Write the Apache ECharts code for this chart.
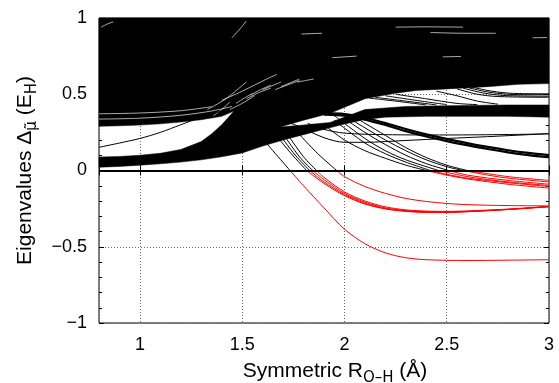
<!DOCTYPE html>
<html><head><meta charset="utf-8">
<script src="https://cdn.jsdelivr.net/npm/echarts@6/dist/echarts.min.js"></script>
<style>html,body{margin:0;padding:0;background:#fff}#c{width:559px;height:383px}</style>
</head><body><div id="c"></div>
<script>
// ---------- data ----------
// dense black region (many overlapping eigenvalue curves), outline [x, y]
const massOutline = [
  [0.8,1.0],[3.0,1.0],
  [3.0,0.57],[2.85,0.565],[2.7,0.55],[2.5,0.535],[2.35,0.525],[2.24,0.505],
  [2.1,0.47],[1.93,0.375],[1.8,0.33],[1.685,0.285],
  [1.8,0.298],[1.93,0.315],[2.1,0.40],[2.3,0.42],[2.5,0.425],[2.8,0.43],[3.0,0.43],
  [3.0,0.35],[2.8,0.355],[2.6,0.355],[2.4,0.355],[2.2,0.35],[2.1,0.335],[2.0,0.305],
  [1.9,0.27],[1.8,0.235],[1.7,0.20],[1.6,0.16],[1.5,0.115],[1.4,0.09],[1.3,0.07],
  [1.2,0.055],[1.1,0.044],[1.0,0.035],[0.9,0.027],[0.8,0.021],
  [0.8,0.088],[0.9,0.092],[1.0,0.10],[1.1,0.113],[1.2,0.138],[1.3,0.19],[1.35,0.24],
  [1.4,0.30],[1.46,0.39],
  [1.4,0.355],[1.3,0.333],[1.2,0.318],[1.1,0.306],[1.0,0.298],[0.9,0.293],[0.8,0.29]
];
const polygons = [massOutline];

// white gaps inside the dense region
const streak1 = [[0.8,0.337],[1.0,0.343],[1.2,0.362],[1.35,0.39],[1.45,0.42]];
const streak2 = [[0.8,0.372],[1.0,0.377],[1.2,0.392],[1.35,0.418]];
const streak3 = [[1.33,0.40],[1.42,0.47],[1.52,0.58]];
const streak4 = [[1.40,0.46],[1.5,0.52],[1.62,0.60],[1.67,0.63]];
const streak5 = [[1.44,0.40],[1.5,0.44],[1.56,0.49]];
const streak6 = [[1.52,0.47],[1.58,0.51],[1.64,0.54]];
const streak7 = [[1.66,0.53],[1.72,0.56],[1.78,0.59]];
const streak8 = [[1.45,0.87],[1.49,0.93],[1.52,0.98]];
const streak9 = [[2.25,0.94],[2.4,0.942],[2.58,0.94]];
const streak10 = [[2.42,0.905],[2.58,0.90],[2.74,0.90]];
const streak11 = [[1.94,0.74],[2.0,0.745],[2.06,0.75]];
const streak12 = [[2.48,0.745],[2.57,0.748]];
const streak13 = [[2.92,0.87],[2.99,0.872]];
const streak14 = [[1.79,0.895],[1.89,0.90]];
const streak15 = [[1.47,0.44],[1.51,0.475],[1.55,0.505]];
const streak16 = [[1.54,0.495],[1.59,0.53],[1.64,0.56]];
const streak17 = [[1.60,0.53],[1.645,0.555],[1.69,0.58]];
const streak18 = [[1.69,0.55],[1.735,0.575],[1.78,0.60]];
const streak19 = [[1.77,0.58],[1.81,0.59],[1.85,0.60]];
const streak20 = [[1.36,0.36],[1.40,0.40],[1.44,0.45]];
const streak21 = [[0.81,0.94],[0.84,0.96],[0.87,0.975]];
const whiteStreaks = [streak1, streak2, streak3, streak4, streak5, streak6, streak7,
  streak8, streak9, streak10, streak11, streak12, streak13, streak14, streak15,
  streak16, streak17, streak18, streak19, streak20, streak21];

// individual curves (black above 0, red below 0)
const curveRise = [[0.8,0.152],[0.9,0.18],[1.0,0.21],[1.1,0.25],[1.2,0.30],[1.3,0.35],[1.4,0.39]];
const curveR1 = [[1.58,0.24],[1.65,0.13],[1.734,0],[1.8,-0.10],[1.9,-0.245],[2.0,-0.385],[2.1,-0.48],[2.2,-0.54],[2.3,-0.572],[2.4,-0.585],[2.6,-0.59],[2.8,-0.588],[3.0,-0.585]];
const curveR2 = [[1.66,0.24],[1.74,0.11],[1.815,0],[1.9,-0.085],[2.0,-0.165],[2.1,-0.22],[2.2,-0.252],[2.3,-0.268],[2.4,-0.275],[2.5,-0.275],[2.6,-0.27],[2.8,-0.255],[3.0,-0.235]];
const curveR3 = [[1.68,0.24],[1.76,0.10],[1.83,0],[1.9,-0.075],[2.0,-0.158],[2.1,-0.215],[2.2,-0.25],[2.3,-0.266],[2.4,-0.273],[2.5,-0.274],[2.6,-0.27],[2.8,-0.256],[3.0,-0.237]];
const curveR4 = [[1.70,0.24],[1.78,0.09],[1.845,0],[1.9,-0.06],[2.0,-0.15],[2.1,-0.208],[2.2,-0.245],[2.3,-0.263],[2.4,-0.27],[2.5,-0.271],[2.6,-0.268],[2.8,-0.255],[3.0,-0.238]];
const curveR5 = [[1.72,0.24],[1.80,0.09],[1.864,0],[1.9,-0.045],[2.0,-0.14],[2.1,-0.20],[2.2,-0.238],[2.3,-0.258],[2.4,-0.266],[2.5,-0.268],[2.6,-0.265],[2.8,-0.253],[3.0,-0.236]];
const curveR6 = [[1.77,0.25],[1.87,0.11],[1.962,0],[2.0,-0.04],[2.1,-0.105],[2.2,-0.15],[2.3,-0.183],[2.4,-0.203],[2.5,-0.216],[2.6,-0.224],[2.8,-0.23],[3.0,-0.232]];
const curveN1 = [[1.95,0.33],[2.1,0.18],[2.2,0.11],[2.3,0.055],[2.42,0],[2.5,-0.025],[2.6,-0.05],[2.8,-0.08],[3.0,-0.105]];
const curveN2 = [[1.95,0.36],[2.1,0.21],[2.2,0.13],[2.3,0.07],[2.46,0],[2.6,-0.04],[2.8,-0.075],[3.0,-0.098]];
const curveN3 = [[2.0,0.34],[2.1,0.25],[2.2,0.17],[2.3,0.10],[2.4,0.045],[2.51,0],[2.6,-0.03],[2.8,-0.065],[3.0,-0.09]];
const curveN4 = [[2.0,0.36],[2.1,0.28],[2.2,0.20],[2.3,0.13],[2.4,0.07],[2.5,0.025],[2.58,0],[2.7,-0.03],[2.8,-0.05],[3.0,-0.075]];
const curveN5 = [[2.05,0.35],[2.1,0.31],[2.2,0.23],[2.3,0.15],[2.4,0.085],[2.5,0.035],[2.6,0],[2.8,-0.04],[3.0,-0.065]];
const curveN6 = [[1.9,0.30],[2.0,0.20],[2.1,0.13],[2.2,0.08],[2.3,0.035],[2.4,0],[2.5,-0.03],[2.6,-0.055],[2.8,-0.09],[3.0,-0.115]];
const curveT1 = [[1.9,0.376],[2.0,0.37],[2.1,0.346],[2.2,0.311],[2.3,0.272],[2.4,0.237],[2.5,0.207],[2.6,0.18],[2.7,0.155],[2.8,0.133],[2.9,0.115],[3.0,0.101]];
const curveT2 = [[1.9,0.366],[2.0,0.359],[2.1,0.334],[2.2,0.298],[2.3,0.258],[2.4,0.223],[2.5,0.193],[2.6,0.166],[2.7,0.141],[2.8,0.119],[2.9,0.101],[3.0,0.087]];
const curveH1 = [[1.7,0.33],[1.78,0.287],[1.9,0.215],[2.0,0.185],[2.1,0.185],[2.3,0.197],[2.5,0.21],[2.7,0.222],[2.9,0.235],[3.0,0.242]];
const curveH2 = [[1.82,0.31],[1.9,0.27],[2.0,0.245],[2.2,0.235],[2.5,0.233],[2.8,0.236],[3.0,0.24]];
const curveB1 = [[2.6,0.545],[2.7,0.515],[2.8,0.50],[2.9,0.497],[3.0,0.497]];
const curveB2 = [[2.62,0.548],[2.72,0.52],[2.82,0.506],[3.0,0.503]];
const curveB3 = [[2.58,0.54],[2.68,0.508],[2.78,0.492],[3.0,0.487]];
const curveB4 = [[2.55,0.535],[2.65,0.50],[2.75,0.485],[3.0,0.48]];
const curveK1 = [[2.12,0.475],[2.25,0.455],[2.4,0.43]];
const curveK2 = [[2.15,0.48],[2.3,0.455],[2.45,0.43]];
const curveK3 = [[2.2,0.49],[2.35,0.46],[2.5,0.432]];
const curveK4 = [[2.25,0.50],[2.4,0.47],[2.55,0.44],[2.65,0.432]];
const curveK5 = [[2.45,0.52],[2.55,0.49],[2.65,0.455],[2.75,0.435]];
const thinCurves = [curveRise, curveR1, curveR2, curveR3, curveR4, curveR5, curveR6,
  curveN1, curveN2, curveN3, curveN4, curveN5, curveN6, curveH1, curveH2,
  curveB1, curveB2, curveB3, curveB4, curveK1, curveK2, curveK3, curveK4, curveK5];
const thickCurves = [curveT1, curveT2];

const xMin = 0.8, xMax = 3.0, yMin = -1, yMax = 1;
const xLabels = {'1':'1', '1.5':'1.5', '2':'2', '2.5':'2.5', '3':'3'};
const yLabels = {'-1':'\u22121', '-0.5':'\u22120.5', '0':'0', '0.5':'0.5', '1':'1'};

// ---------- chart ----------
const FONT = '"Liberation Sans", Arial, Helvetica, sans-serif';
const chart = echarts.init(document.getElementById('c'), null, {renderer: 'canvas'});
const series = [];
series.push({
  type: 'custom', coordinateSystem: 'cartesian2d', silent: true, z: 1,
  data: polygons.map((p, i) => [p[0][0], p[0][1], i]),
  renderItem: function (params, api) {
    const pts = polygons[params.dataIndex].map(q => api.coord(q));
    return {type: 'polygon', shape: {points: pts}, style: {fill: '#000', stroke: '#000', lineWidth: 0.5}};
  }
});
whiteStreaks.forEach(s => series.push({
  type: 'line', data: s, smooth: 0.3, showSymbol: false, silent: true, z: 3,
  lineStyle: {color: '#fff', width: 0.8, opacity: 0.85}
}));
function addCurve(c, width) {
  const above = c.filter(p => p[1] >= 0);
  const below = c.filter(p => p[1] <= 0);
  if (above.length > 1) series.push({
    type: 'line', data: above, smooth: 0.3, showSymbol: false, silent: true, z: 4,
    lineStyle: {color: '#000', width: width}
  });
  if (below.length > 1) series.push({
    type: 'line', data: below, smooth: 0.3, showSymbol: false, silent: true, z: 4,
    lineStyle: {color: '#ff0000', width: width}
  });
}
thinCurves.forEach(c => addCurve(c, 1));
thickCurves.forEach(c => addCurve(c, 2.2));
// zero reference line
series.push({
  type: 'line', data: [], silent: true, z: 6,
  markLine: {
    silent: true, symbol: 'none', animation: false,
    label: {show: false},
    lineStyle: {color: '#000', width: 2, type: 'solid'},
    data: [{yAxis: 0}]
  }
});

const tickStyle = {show: true, inside: true, length: 5, lineStyle: {color: '#000', width: 1}};
const minorStyle = {show: true, splitNumber: 5, length: 3, lineStyle: {color: '#000', width: 1}};
const gridLine = {show: true, lineStyle: {color: '#666', width: 1, type: [1, 2]}};
const richTitle = {
  a: {fontSize: 21, fontFamily: FONT, color: '#000', lineHeight: 24, verticalAlign: 'top'},
  s: {fontSize: 15, fontFamily: '"DejaVu Sans", ' + FONT, color: '#000', lineHeight: 24, verticalAlign: 'top', padding: [10, 0, 0, 0]}
};

chart.setOption({
  animation: false,
  backgroundColor: '#fff',
  grid: {left: 99, right: 10, top: 18, bottom: 60, show: true, borderColor: '#000', borderWidth: 1,
    containLabel: false, outerBoundsMode: 'none'},
  xAxis: [{
    type: 'value', min: xMin, max: xMax, position: 'bottom',
    axisLine: {show: false}, axisTick: tickStyle, splitLine: gridLine,
    axisLabel: {color: '#000', fontSize: 18, fontFamily: FONT, margin: 13,
      formatter: v => (xLabels[String(Math.round(v * 10) / 10)] || '')},
    name: '{a|Symmetric R}{s|O\u2013H}{a| (\u00C5)}', nameLocation: 'middle', nameGap: 38,
    nameTextStyle: {rich: richTitle, padding: [0, 0, 0, 22]}
  }, {
    type: 'value', min: xMin, max: xMax, position: 'top',
    axisLine: {show: false}, axisTick: tickStyle, splitLine: {show: false}, axisLabel: {show: false}
  }],
  yAxis: [{
    type: 'value', min: yMin, max: yMax, interval: 0.5, position: 'left',
    axisLine: {show: false}, axisTick: tickStyle, minorTick: minorStyle, splitLine: gridLine,
    axisLabel: {color: '#000', fontSize: 18, fontFamily: FONT, margin: 12,
      formatter: v => (yLabels[String(Math.round(v * 10) / 10)] || '')},
    name: '{a|Eigenvalues \u0394}{s|\u03BC\u0303}{a| (E}{s|H}{a|)}', nameLocation: 'middle', nameGap: 60, nameRotate: 90,
    nameTextStyle: {rich: richTitle}
  }, {
    type: 'value', min: yMin, max: yMax, interval: 0.5, position: 'right',
    axisLine: {show: false}, axisTick: tickStyle, minorTick: minorStyle, splitLine: {show: false}, axisLabel: {show: false}
  }],
  series: series
});
</script></body></html>
